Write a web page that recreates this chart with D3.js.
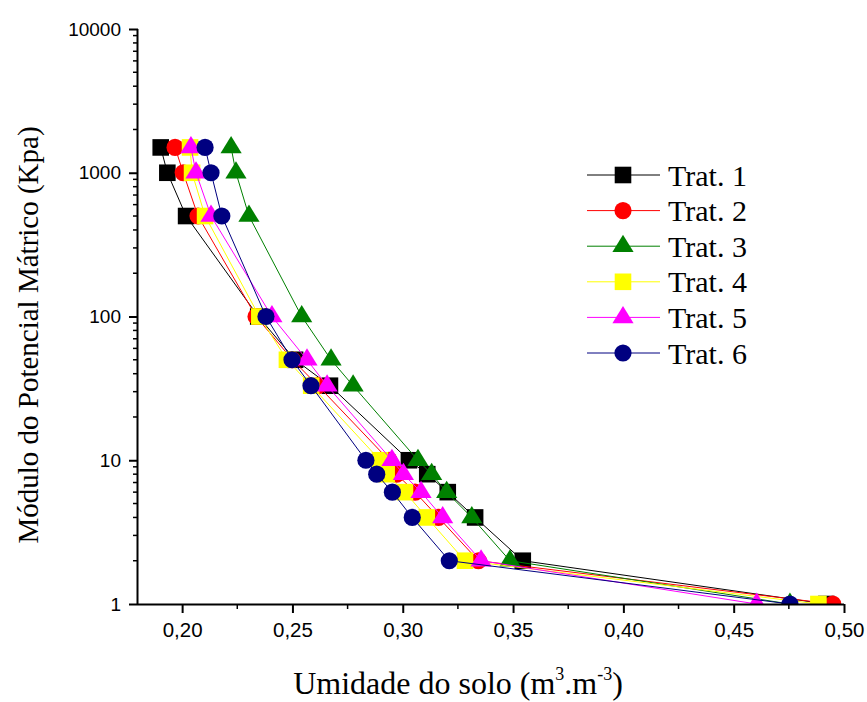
<!DOCTYPE html>
<html><head><meta charset="utf-8">
<script src="https://cdn.jsdelivr.net/npm/d3@7/dist/d3.min.js"></script>
<style>body{margin:0;background:#fff}svg{display:block}</style>
</head><body>
<script>
const potentials = [1500, 1000, 500, 100, 50, 33, 10, 8, 6, 4, 2, 1];
const trat1 = [0.1903, 0.1933, 0.2018, 0.2345, 0.2512, 0.2670, 0.3028, 0.3111, 0.3204, 0.3328, 0.3544, 0.4920];
const trat2 = [0.1968, 0.2005, 0.2072, 0.2335, 0.2500, 0.2616, 0.2938, 0.2972, 0.3056, 0.3162, 0.3343, 0.4949];
const trat3 = [0.2222, 0.2244, 0.2303, 0.2542, 0.2675, 0.2775, 0.3069, 0.3131, 0.3199, 0.3313, 0.3486, 0.4755];
const trat4 = [0.2036, 0.2045, 0.2104, 0.2350, 0.2475, 0.2585, 0.2897, 0.2927, 0.3010, 0.3109, 0.3282, 0.4884];
const trat5 = [0.2040, 0.2063, 0.2131, 0.2407, 0.2566, 0.2657, 0.2951, 0.3003, 0.3083, 0.3181, 0.3355, 0.4604];
const trat6 = [0.2104, 0.2131, 0.2180, 0.2380, 0.2498, 0.2584, 0.2833, 0.2882, 0.2953, 0.3043, 0.3211, 0.4755];
const seriesNames = ["Trat. 1", "Trat. 2", "Trat. 3", "Trat. 4", "Trat. 5", "Trat. 6"];
const seriesValues = [trat1, trat2, trat3, trat4, trat5, trat6];
const seriesColors = ["#000000", "#ff0000", "#008000", "#ffff00", "#ff00ff", "#000080"];
const seriesShapes = ["square", "circle", "triangle", "square", "triangle", "circle"];
const xTicks = [0.20, 0.25, 0.30, 0.35, 0.40, 0.45, 0.50];
const yTicks = [1, 10, 100, 1000, 10000];

(function () {
const W = 867, H = 702;
const pL = 138, pR = 844, pT = 29, pB = 604;
const svg = d3.select("body").append("svg").attr("width", W).attr("height", H);

const x = d3.scaleLinear().domain([0.18, 0.50]).range([pL, pR]);
const y = d3.scaleLog().domain([1, 10000]).range([pB, pT]);

svg.append("defs").append("clipPath").attr("id", "clip")
  .append("rect").attr("x", pL).attr("y", pT).attr("width", pR - pL).attr("height", pB - pT);

function shapePath(shape) {
  if (shape === "square") return "M-8.3,-8.3H8.3V8.3H-8.3Z";
  if (shape === "circle") return "M-8.6,0A8.6,8.6 0 1,0 8.6,0A8.6,8.6 0 1,0 -8.6,0Z";
  return "M0,-11.4L10.6,5.8L-10.6,5.8Z";
}

const plot = svg.append("g").attr("clip-path", "url(#clip)");
const line = d3.line().x(d => x(d[0])).y(d => y(d[1]));

seriesValues.forEach((vals, i) => {
  const pts = vals.map((v, j) => [v, potentials[j]]);
  const g = plot.append("g");
  g.append("path").attr("d", line(pts)).attr("fill", "none")
    .attr("stroke", seriesColors[i]).attr("stroke-width", 1);
  g.selectAll("path.m").data(pts).enter().append("path").attr("class", "m")
    .attr("d", shapePath(seriesShapes[i]))
    .attr("transform", d => `translate(${x(d[0])},${y(d[1])})`)
    .attr("fill", seriesColors[i]);
});

const sans = "'Liberation Sans', Arial, sans-serif";
const serif = "'Liberation Serif', 'Times New Roman', serif";

// axes
const xAxis = d3.axisBottom(x).tickValues(xTicks).tickSize(9).tickSizeOuter(0)
  .tickFormat(d => d3.format(".2f")(d).replace(".", ","));
const gx = svg.append("g").attr("transform", `translate(0,${pB})`).call(xAxis);
gx.select(".domain").attr("stroke-width", 2).attr("d", `M${pL},0.5H${pR}`);
gx.selectAll(".tick line").attr("stroke-width", 2);
gx.selectAll(".tick text").attr("font-family", sans)
  .attr("font-size", 20.5).attr("y", 33).attr("dy", 0).attr("fill", "#000");
const xMinor = d3.range(0.225, 0.50, 0.05);
svg.append("g").selectAll("line").data(xMinor).enter().append("line")
  .attr("x1", d => x(d)).attr("x2", d => x(d)).attr("y1", pB).attr("y2", pB + 5)
  .attr("stroke", "#000").attr("stroke-width", 1.5);

const yAxis = d3.axisLeft(y).tickValues(yTicks).tickSize(9).tickSizeOuter(0)
  .tickFormat(d3.format("d"));
const gy = svg.append("g").attr("transform", `translate(${pL},0)`).call(yAxis);
gy.select(".domain").attr("stroke-width", 2).attr("d", `M-0.5,${pT}V${pB}`);
gy.selectAll(".tick line").attr("stroke-width", 2);
gy.selectAll(".tick text").attr("font-family", sans)
  .attr("font-size", 19).attr("x", -17).attr("fill", "#000");
const yMinor = [];
[1, 10, 100, 1000].forEach(b => { for (let k = 2; k <= 9; k++) yMinor.push(b * k); });
svg.append("g").selectAll("line").data(yMinor).enter().append("line")
  .attr("x1", pL - 5).attr("x2", pL).attr("y1", d => y(d)).attr("y2", d => y(d))
  .attr("stroke", "#000").attr("stroke-width", 1.5);

// titles
const xt = svg.append("text").attr("x", 458).attr("y", 694).attr("text-anchor", "middle")
  .attr("font-family", serif).attr("font-size", 32).attr("fill", "#000");
xt.append("tspan").text("Umidade do solo (m");
xt.append("tspan").text("3").attr("font-size", 18).attr("dy", -14);
xt.append("tspan").text(".m").attr("dy", 14);
xt.append("tspan").text("-3").attr("font-size", 18).attr("dy", -14);
xt.append("tspan").text(")").attr("dy", 14);

svg.append("text").attr("transform", "translate(38,335) rotate(-90)").attr("text-anchor", "middle")
  .attr("font-family", serif).attr("font-size", 29).attr("fill", "#000")
  .text("Módulo do Potencial Mátrico (Kpa)");

// legend
const leg = svg.append("g");
seriesNames.forEach((name, i) => {
  const ly = 175 + i * 35.6;
  leg.append("line").attr("x1", 587).attr("x2", 660).attr("y1", ly).attr("y2", ly)
    .attr("stroke", seriesColors[i]).attr("stroke-width", 1);
  leg.append("path").attr("d", shapePath(seriesShapes[i])).attr("transform", `translate(623,${ly})`)
    .attr("fill", seriesColors[i]);
  leg.append("text").attr("x", 668).attr("y", ly).attr("dy", "0.35em")
    .attr("font-family", serif).attr("font-size", 30).attr("fill", "#000")
    .text(name);
});
})();
</script>
</body></html>
